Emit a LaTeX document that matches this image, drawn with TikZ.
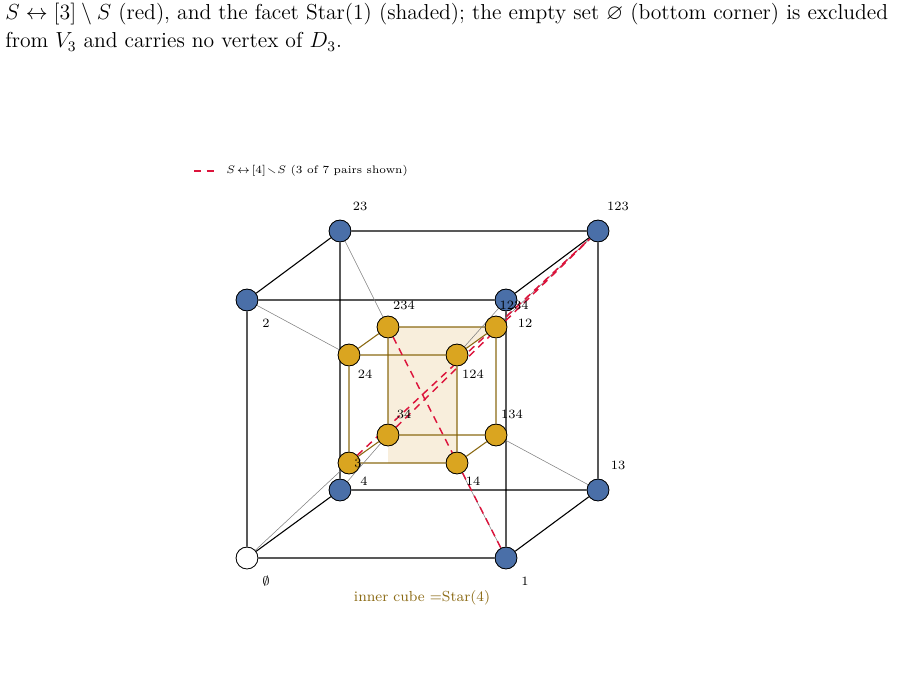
\documentclass[tikz,border=0pt]{standalone}
\usepackage{amsmath}
\usepackage{amssymb}
\usepackage{tikz}
\usetikzlibrary{calc}
\definecolor{vblue}{HTML}{4A6FA8}
\definecolor{vgold}{HTML}{DAA520}
\definecolor{olive}{HTML}{8B6A14}
\definecolor{facetfill}{HTML}{F8EEDC}
\definecolor{pairred}{HTML}{DC143C}
\tikzset{
  outer/.style={circle, draw=black, fill=vblue, minimum size=12pt, inner sep=0pt},
  inner/.style={circle, draw=black, fill=vgold, minimum size=12pt, inner sep=0pt},
  lab/.style={font=\scriptsize, inner sep=0pt},
  cube/.style={draw=black, line width=0.6pt},
  icube/.style={draw=olive, line width=0.6pt},
  link/.style={draw=gray, line width=0.3pt},
  pair/.style={draw=pairred, line width=0.8pt, dash pattern=on 4pt off 3pt}
}
\begin{document}
\begin{tikzpicture}[x=0.55pt, y=-0.55pt]
\useasboundingbox (0,0) rectangle (914,693);
% caption lines
\node[anchor=west, inner sep=0pt, font=\fontsize{11.9}{14}\selectfont] (cap1) at (5,14) {$S\leftrightarrow[3]\setminus S$ (red), and the facet Star(1) (shaded); the empty set $\varnothing$ (bottom corner) is excluded};
\node[anchor=west, inner sep=0pt, font=\fontsize{11.9}{14}\selectfont] (cap2) at (5,42) {from $V_3$ and carries no vertex of $D_3$.};

% shaded facet
\fill[facetfill] (388,327) -- (496,327) -- (457,355) -- (457,463) -- (388,463) -- cycle;

% outer cube
\node[outer, fill=white] (e) at (247,558) {};
\node[outer] (o1) at (506,558) {};
\node[outer] (o2) at (247,300) {};
\node[outer] (o12) at (506,300) {};
\node[outer] (o23) at (340,231) {};
\node[outer] (o123) at (598,231) {};
\node[outer] (o13) at (598,490) {};
\node[outer] (o4) at (340,490) {};

% inner cube
\node[inner] (i24) at (349,355) {};
\node[inner] (i124) at (457,355) {};
\node[inner] (i234) at (388,327) {};
\node[inner] (i1234) at (496,327) {};
\node[inner] (i34) at (388,435) {};
\node[inner] (i134) at (496,435) {};
\node[inner] (i3) at (349,463) {};
\node[inner] (i14) at (457,463) {};

% edges
\path[cube] (e) -- (o1) (e) -- (o2) (o2) -- (o12) (o1) -- (o12)
  (o2) -- (o23) (o12) -- (o123) (o23) -- (o123) (o1) -- (o13)
  (o13) -- (o123) (o4) -- (o13) (o4) -- (o23) (e) -- (o4);
\path[icube] (i24) -- (i124) (i24) -- (i3) (i3) -- (i14) (i124) -- (i14)
  (i234) -- (i1234) (i234) -- (i34) (i34) -- (i134) (i1234) -- (i134)
  (i24) -- (i234) (i124) -- (i1234) (i3) -- (i34) (i14) -- (i134);
\path[link] (e) -- (i3) (o1) -- (i14) (o2) -- (i24) (o12) -- (i124)
  (o23) -- (i234) (o123) -- (i1234) (o13) -- (i134) (o4) -- (i34);
\path[pair] (i234) -- (o1) (i3) -- (o123) (i34) -- (o123);

% redraw nodes on top
\foreach \p in {{506,558}, {247,300}, {506,300}, {340,231},
  {598,231}, {598,490}, {340,490}}
  \node[outer] at (\p) {};
\node[outer, fill=white] at (247,558) {};
\foreach \p in {{349,355}, {457,355}, {388,327}, {496,327}, {388,435},
  {496,435}, {349,463}, {457,463}}
  \node[inner] at (\p) {};

% labels
\node[lab] at (266,581) {$\emptyset$};
\node[lab] at (525,581) {1};
\node[lab] at (266,323) {2};
\node[lab] at (525,323) {12};
\node[lab] at (360,206) {23};
\node[lab] at (618,206) {123};
\node[lab] at (618,465) {13};
\node[lab] at (364,481) {4};
\node[lab] at (365,374) {24};
\node[lab] at (473,374) {124};
\node[lab] at (404,305) {234};
\node[lab] at (514,305) {1234};
\node[lab] at (404,414) {34};
\node[lab] at (512,414) {134};
\node[lab] at (358,463) {3};
\node[lab] at (473,481) {14};

% legend
\coordinate (lg1) at (194,171);
\coordinate (lg2) at (218,171);
\path[pair] (lg1) -- (lg2);
\node[anchor=west, font=\fontsize{6}{7}\selectfont, inner sep=0pt] (lgt) at (226,171) {$S\!\leftrightarrow\![4]\!\smallsetminus\! S$ (3 of 7 pairs shown)};
\node[font=\footnotesize, text=olive, inner sep=0pt] (cap) at (422,598) {inner cube $=$Star(4)};
\end{tikzpicture}
\end{document}
